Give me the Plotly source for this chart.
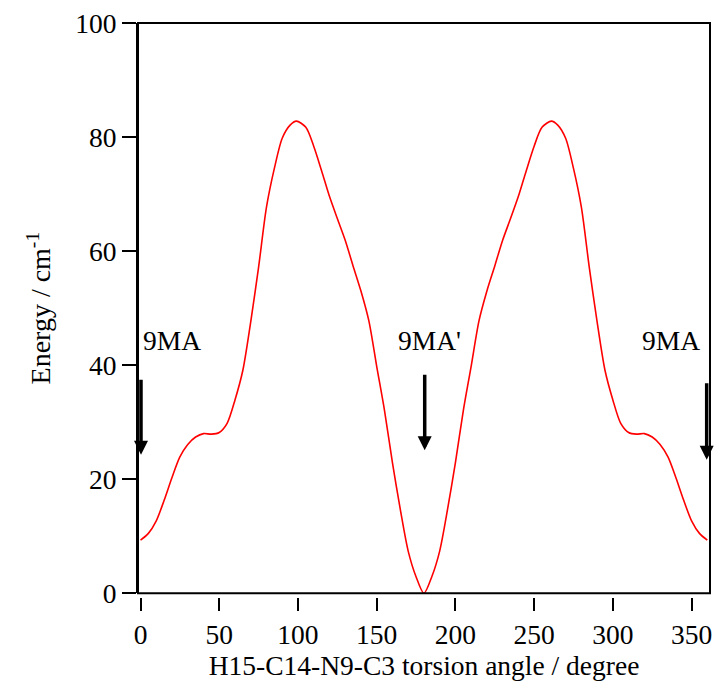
'''
    Torsional potential energy curve of 9MA / 9MA' along the H15-C14-N9-C3 angle.
'''
import plotly.graph_objects as go

ANGLE = [0, 5, 10, 15, 20, 25, 30, 35, 40, 45, 50, 55, 60, 65, 70, 75, 80, 85, 90, 95, 99,
         105, 110, 115, 120, 125, 130, 135, 140, 145, 150, 155, 160, 165, 170, 175, 180,
         185, 190, 195, 200, 205, 210, 215, 220, 225, 230, 235, 240, 245, 250, 255, 261,
         265, 270, 275, 280, 285, 290, 295, 300, 305, 310, 315, 320, 325, 330, 335, 340,
         345, 350, 355, 360]
ENERGY = [9.3, 10.5, 12.7, 16.3, 20.3, 23.9, 26.1, 27.4, 28.0, 27.9, 28.2, 29.8, 33.9, 39.1,
          47.6, 57.2, 67.7, 74.5, 79.8, 82.1, 82.8,
          81.7, 78.4, 74.1, 69.6, 65.7, 61.9, 57.4, 53.0, 47.8, 39.8, 32.0, 22.9, 14.7, 7.4,
          2.9, 0.0,
          2.9, 7.4, 14.7, 22.9, 32.0, 39.8, 47.8, 53.0, 57.4, 61.9, 65.7, 69.6, 74.1, 78.4,
          81.7, 82.8, 82.1, 79.8, 74.5, 67.7, 57.2, 47.6, 39.1, 33.9, 29.8, 28.2, 27.9, 28.0,
          27.4, 26.1, 23.9, 20.3, 16.3, 12.7, 10.5, 9.3]

X_TICKS = [0, 50, 100, 150, 200, 250, 300, 350]
Y_TICKS = [0, 20, 40, 60, 80, 100]

# conformer labels: text, text x, anchor, arrow x, arrow tail, arrow tip
LABELS = ['9MA', "9MA'", '9MA']
LABEL_X = [0.3, 183.5, 356.5]
LABEL_ANCHOR = ['left', 'center', 'right']
ARROW_X = [0.3, 180.5, 359.6]
ARROW_TAIL = [37.7, 38.6, 37.1]
ARROW_TIP = [24.3, 25.1, 23.4]

FONT = 'Liberation Serif'


def get_figure():
    fig = go.Figure()

    fig.add_trace(go.Scatter(
        x=ANGLE,
        y=ENERGY,
        mode='lines',
        line=dict(color='#ff0000', width=1.6, shape='spline', smoothing=0.8),
        showlegend=False,
        hoverinfo='skip',
    ))

    for text, tx, anchor, axx, tail, tip in zip(LABELS, LABEL_X, LABEL_ANCHOR,
                                                ARROW_X, ARROW_TAIL, ARROW_TIP):
        fig.add_annotation(x=tx, y=44.3, text=text, showarrow=False,
                           xanchor=anchor, yanchor='middle',
                           font=dict(family=FONT, size=27.5, color='black'))
        fig.add_annotation(x=axx, y=tip, ax=axx, ay=tail, axref='x', ayref='y',
                           text='', showarrow=True, arrowhead=2, arrowsize=0.8,
                           arrowwidth=3.5, arrowcolor='black')

    # frame around the plot area
    fig.add_shape(type='rect', xref='x domain', yref='y domain',
                  x0=0, x1=1, y0=0, y1=1, line=dict(color='black', width=2))

    fig.update_layout(
        width=720,
        height=690,
        margin=dict(l=138, r=8, t=23, b=93),
        plot_bgcolor='white',
        paper_bgcolor='white',
        font=dict(family=FONT, size=27.5, color='black'),
        xaxis=dict(
            range=[-1.6, 361.7],
            tickvals=X_TICKS,
            ticks='outside', ticklen=13, tickwidth=2, tickcolor='black',
            showline=False, showgrid=False, zeroline=False,
            anchor='free', position=0,
            title=dict(text='H15-C14-N9-C3 torsion angle / degree',
                       font=dict(size=27.5), standoff=4),
        ),
        yaxis=dict(
            range=[0, 100],
            domain=[0.0065, 1],
            tickvals=Y_TICKS,
            ticks='outside', ticklen=14, tickwidth=2, tickcolor='black',
            showline=True, linewidth=2, linecolor='black',
            showgrid=False, zeroline=False,
            title=dict(text='Energy / cm<sup>-1</sup>', font=dict(size=28), standoff=16),
        ),
    )

    return fig


fig = get_figure()
fig.write_html('out.html', config={'displayModeBar': False},
               post_script="document.body.style.margin = '0';")
